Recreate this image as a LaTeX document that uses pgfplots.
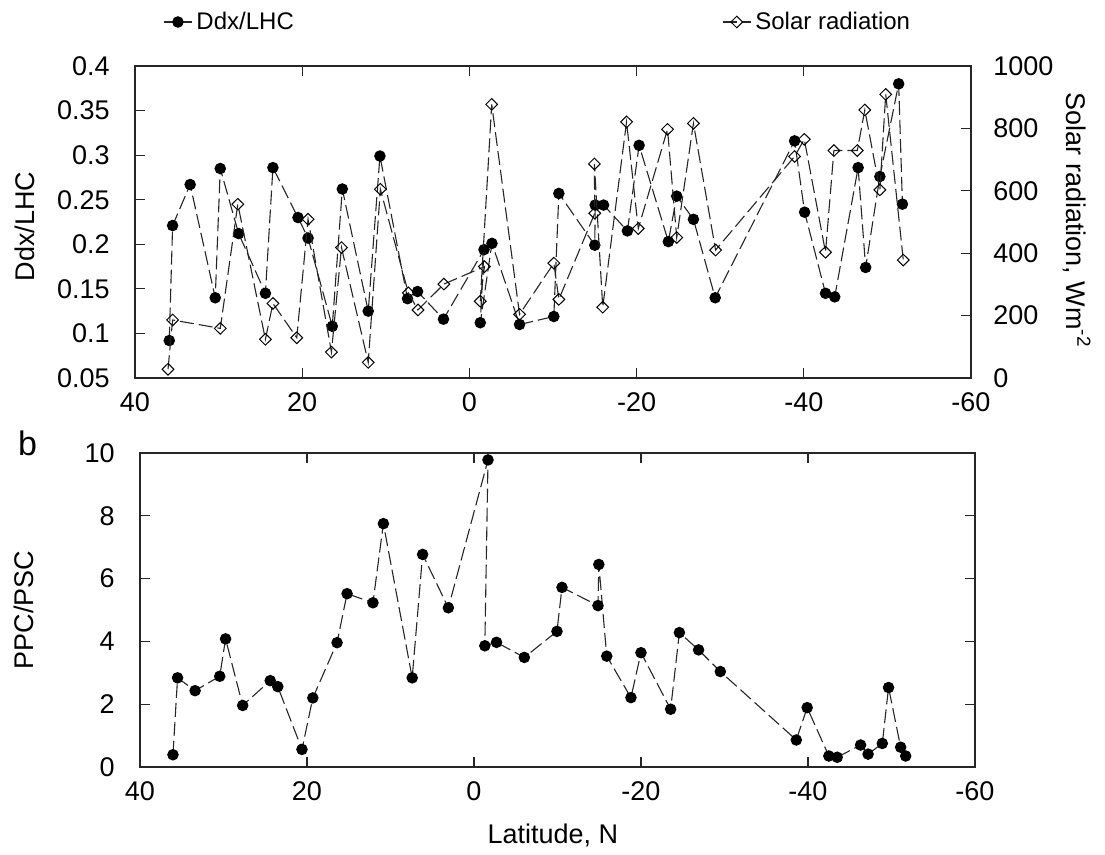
\documentclass[border=0pt]{standalone}
\usepackage{fontspec}
\setmainfont{Liberation Sans}
\usepackage{pgfplots}
\usepackage{pgfplotstable}
\pgfplotsset{compat=1.18}

% Ddx/LHC ratio along the transect (sampling order)
\pgfplotstableread{
lat    ratio
35.9   0.092
35.5   0.221
33.4   0.267
30.4   0.140
29.8   0.285
27.6   0.212
24.4   0.145
23.5   0.286
20.5   0.230
19.3   0.207
16.4   0.108
15.2   0.262
12.1   0.125
10.7   0.299
7.4    0.139
6.2    0.147
3.1    0.116
-1.75  0.194
-1.3   0.112
-2.7   0.201
-6.0   0.110
-10.1  0.119
-10.7  0.257
-15.0  0.199
-15.05 0.244
-16.05 0.244
-18.9  0.215
-20.3  0.311
-23.8  0.203
-24.8  0.254
-26.8  0.228
-29.4  0.140
-38.9  0.316
-40.1  0.236
-42.6  0.145
-43.7  0.141
-46.5  0.286
-47.4  0.174
-49.1  0.276
-51.35 0.380
-51.8  0.245
}\ddxtable

% Solar radiation, W m^-2
\pgfplotstableread{
lat    rad
36.05  28
35.5   186
29.8   159
27.7   557
24.4   124
23.5   239
20.65  129
19.3   509
16.5   83
15.3   418
12.1   50
10.65  605
7.3    273
6.15   218
3.05   301
-1.8   357
-1.3   246
-2.67  877
-6.0   204
-10.1  368
-10.7  252
-15.0  528
-14.95 686
-15.95 227
-18.8  821
-20.2  479
-23.7  797
-24.8  450
-26.8  816
-29.45 410
-38.9  710
-40.06 765
-42.6  403
-43.6  729
-46.4  729
-47.3  859
-49.1  603
-49.8  909
-51.9  378
}\solartable

% PPC/PSC ratio
\pgfplotstableread{
lat    ppc
36.05  0.39
35.5   2.84
33.4   2.43
30.45  2.89
29.75  4.08
27.7   1.96
24.4   2.75
23.5   2.56
20.6   0.56
19.3   2.20
16.4   3.96
15.2   5.52
12.1   5.23
10.85  7.75
7.4    2.84
6.15   6.77
3.07   5.07
-1.68  9.78
-1.3   3.86
-2.7   3.97
-6.03  3.49
-9.94  4.32
-10.54 5.72
-14.85 5.14
-14.95 6.45
-15.9  3.53
-18.8  2.21
-20.0  3.64
-23.55 1.84
-24.6  4.28
-26.9  3.73
-29.5  3.04
-38.6  0.86
-39.9  1.89
-42.5  0.35
-43.5  0.31
-46.3  0.70
-47.2  0.41
-48.9  0.75
-49.65 2.53
-51.1  0.63
-51.7  0.35
}\ppctable

\newcommand\labelfont{\fontsize{13.5}{16}\selectfont}

\pgfplotsset{
  panel/.style={
    scale only axis,
    x dir=reverse, xmin=-60, xmax=40,
    xtick={40,20,0,-20,-40,-60},
    xticklabels={40,20,0,-20,-40,-60},
    tick align=inside,
    major tick length=5pt,
    axis line style={black!85, line width=0.6pt},
    every tick/.style={black!85, line width=0.6pt},
    tick label style={font=\fontsize{13.5}{15}\selectfont},
    /pgf/number format/assume math mode=true,
    xticklabel style={anchor=north, inner sep=0pt, yshift=-7pt},
    clip=false,
    legend image code/.code={%
      \draw[##1, mark repeat=2, mark phase=2]
        plot coordinates {(0pt,0pt) (7pt,0pt) (14pt,0pt)};},
  },
  dashline/.style={black!85, line width=0.55pt, dash pattern=on 7pt off 2.5pt},
  dotmark/.style={mark=*, mark size=2.6pt,
    mark options={solid, fill=black, draw=black}},
  diamark/.style={mark=diamond, mark size=2.9pt,
    mark options={solid, fill=white, draw=black, line width=0.5pt, xscale=1.35}},
  legendbox/.style={draw=none, fill=none, inner sep=0pt,
    font=\fontsize{12}{14}\selectfont, legend cell align=left},
}

\begin{document}
\begin{tikzpicture}
\path[use as bounding box] (0pt,0pt) rectangle (552.5pt,-427.5pt);

% upper panel, left scale
\begin{axis}[panel,
  at={(67.5pt,-189pt)}, anchor=south west,
  width=418pt, height=156pt,
  ymin=0.05, ymax=0.4,
  ytick={0.05,0.1,0.15,0.2,0.25,0.3,0.35,0.4},
  yticklabels={0.05,0.1,0.15,0.2,0.25,0.3,0.35,0.4},
  ytick pos=left,
  yticklabel style={anchor=east, inner sep=0pt, xshift=-12.5pt},
  ylabel={Ddx/LHC},
  every axis y label/.style={at={(axis description cs:-0.1316,0.485)},
    anchor=center, rotate=90, font=\labelfont},
  legend style={legendbox, at={(axis description cs:0.0335,1.141)}, anchor=west},
]
\addplot[dashline, dotmark] table[x=lat, y=ratio] {\ddxtable};
\addlegendentry{Ddx/LHC}
\end{axis}

% upper panel, right scale
\begin{axis}[panel,
  at={(67.5pt,-189pt)}, anchor=south west,
  width=418pt, height=156pt,
  axis x line=none,
  axis y line*=right,
  ymin=0, ymax=1000,
  ytick={0,200,400,600,800,1000},
  yticklabels={0,200,400,600,800,1000},
  yticklabel style={anchor=west, inner sep=0pt, xshift=11pt},
  ylabel={Solar radiation, Wm\textsuperscript{-2}},
  every axis y label/.style={at={(axis description cs:1.1268,0.506)},
    anchor=center, rotate=-90, font=\labelfont},
  legend style={legendbox, at={(axis description cs:0.702,1.141)}, anchor=west},
]
\addplot[dashline, diamark] table[x=lat, y=rad] {\solartable};
\addlegendentry{Solar radiation}
\end{axis}

% lower panel
\begin{axis}[panel,
  at={(70pt,-383.5pt)}, anchor=south west,
  width=417.5pt, height=157pt,
  ymin=0, ymax=10,
  ytick={0,2,4,6,8,10},
  yticklabels={0,2,4,6,8,10},
  yticklabel style={anchor=east, inner sep=0pt, xshift=-12.5pt},
  ylabel={PPC/PSC},
  every axis y label/.style={at={(axis description cs:-0.1395,0.5)},
    anchor=center, rotate=90, font=\labelfont},
  xlabel={Latitude, N},
  every axis x label/.style={at={(axis description cs:0.4946,-0.2166)},
    anchor=center, font=\labelfont},
]
\addplot[dashline, dotmark] table[x=lat, y=ppc] {\ppctable};
\end{axis}

\node[font=\fontsize{17}{20}\selectfont, anchor=center] at (13.75pt,-221.75pt) {b};
\end{tikzpicture}
\end{document}
